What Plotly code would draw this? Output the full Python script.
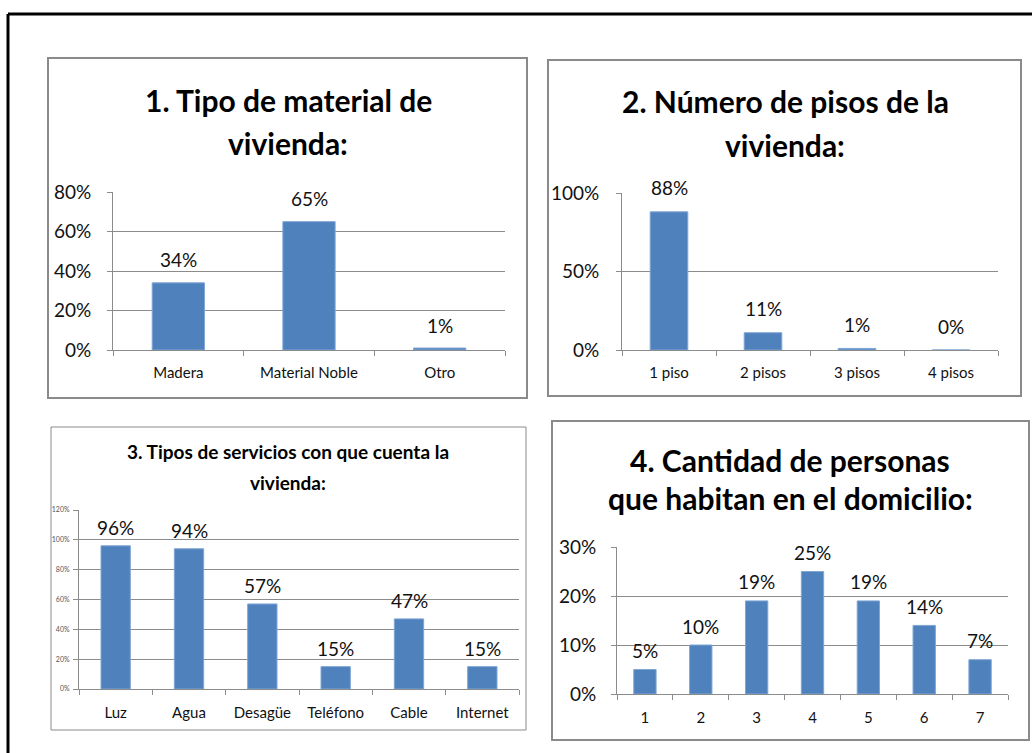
import plotly.graph_objects as go

W, H = 1032, 753

# ---- data -------------------------------------------------------------
mat_cats = ["Madera", "Material Noble", "Otro"]
mat_vals = [34, 65, 1]

pisos_cats = ["1 piso", "2 pisos", "3 pisos", "4 pisos"]
pisos_vals = [88, 11, 1, 0]

serv_cats = ["Luz", "Agua", "Desagüe", "Teléfono", "Cable", "Internet"]
serv_vals = [96, 94, 57, 15, 47, 15]

pers_cats = ["1", "2", "3", "4", "5", "6", "7"]
pers_vals = [5, 10, 19, 25, 19, 14, 7]

FONT = "Lato, Liberation Sans, sans-serif"
BAR = "#4F81BD"
GRID = "#8C8C8C"


def px_x(p):
    return p / W


def px_y(p):
    return 1 - p / H


# layout of each chart box (pixel geometry)
panels = [
    dict(cats=mat_cats, vals=mat_vals, x0=113, x1=505, ybot=350, ytop=192,
         ymax=80, dtick=20, yfont=19, xfont=15, lblfont=19, lblshift=23,
         ystand=12, xstand=9,
         box=(48, 58, 527, 398), boxw=2,
         title=["1. Tipo de material de", "vivienda:"], tfont=30,
         tx=288, ty=[100, 143]),
    dict(cats=pisos_cats, vals=pisos_vals, x0=622, x1=998, ybot=350, ytop=193,
         ymax=100, dtick=50, yfont=19, xfont=15, lblfont=19, lblshift=24,
         ystand=13, xstand=9,
         box=(548, 60, 1021, 396), boxw=2,
         title=["2. Número de pisos de la", "vivienda:"], tfont=30,
         tx=785, ty=[101, 145]),
    dict(cats=serv_cats, vals=serv_vals, x0=79, x1=519, ybot=689, ytop=510,
         ymax=120, dtick=20, yfont=7, xfont=15, lblfont=19, lblshift=18,
         ystand=2, xstand=10,
         box=(51, 427, 526, 730), boxw=1,
         title=["3. Tipos de servicios con que cuenta la", "vivienda:"], tfont=19,
         tx=288, ty=[451, 482]),
    dict(cats=pers_cats, vals=pers_vals, x0=617, x1=1008, ybot=694, ytop=547,
         ymax=30, dtick=10, yfont=19, xfont=15, lblfont=19, lblshift=19,
         ystand=11, xstand=10,
         box=(552, 421, 1029, 740), boxw=2,
         title=["4. Cantidad de personas", "que habitan en el domicilio:"], tfont=30,
         tx=790, ty=[460, 498]),
]

fig = go.Figure()
shapes = []
annotations = []
layout_axes = {}

for i, p in enumerate(panels, start=1):
    xa = "x" if i == 1 else f"x{i}"
    ya = "y" if i == 1 else f"y{i}"
    fig.add_trace(go.Bar(
        x=p["cats"], y=p["vals"], xaxis=xa, yaxis=ya,
        marker=dict(color=BAR, line=dict(color="#7FA6D4", width=1)),
        width=0.4, showlegend=False, hoverinfo="x+y",
    ))
    # value labels above each bar (x given as category index)
    for k, v in enumerate(p["vals"]):
        annotations.append(dict(
            x=k, y=v, xref=xa, yref=ya, text=f"{v}%", showarrow=False,
            yanchor="middle", yshift=p["lblshift"],
            font=dict(family=FONT, size=p["lblfont"], color="#111"),
        ))
    # title lines
    for line, ty in zip(p["title"], p["ty"]):
        annotations.append(dict(
            x=px_x(p["tx"]), y=px_y(ty), xref="paper", yref="paper",
            text=f"<b>{line}</b>", showarrow=False,
            xanchor="center", yanchor="middle",
            font=dict(family=FONT, size=p["tfont"], color="#000"),
        ))
    # chart box
    bx0, by0, bx1, by1 = p["box"]
    shapes.append(dict(
        type="rect", xref="paper", yref="paper",
        x0=px_x(bx0), x1=px_x(bx1), y0=px_y(by1), y1=px_y(by0),
        line=dict(color="#8A8A8A", width=p["boxw"]), fillcolor="rgba(0,0,0,0)",
        layer="below",
    ))
    kx = "xaxis" if i == 1 else f"xaxis{i}"
    ky = "yaxis" if i == 1 else f"yaxis{i}"
    layout_axes[kx] = dict(
        domain=[px_x(p["x0"]), px_x(p["x1"])], anchor=ya, automargin=False,
        type="category", range=[-0.5, len(p["cats"]) - 0.5],
        showline=True, linecolor=GRID, linewidth=1,
        ticks="outside", tickson="boundaries", ticklen=5, tickcolor=GRID,
        showgrid=False, zeroline=False, fixedrange=True,
        tickfont=dict(family=FONT, size=p["xfont"], color="#111"),
        ticklabelstandoff=p["xstand"],
    )
    layout_axes[ky] = dict(
        domain=[px_y(p["ybot"]), px_y(p["ytop"])], anchor=xa, automargin=False,
        range=[0, p["ymax"]], dtick=p["dtick"], tick0=0, ticksuffix="%",
        showline=True, linecolor=GRID, linewidth=1,
        ticks="outside", ticklen=5, tickcolor=GRID,
        showgrid=True, gridcolor=GRID, gridwidth=1, zeroline=False,
        fixedrange=True,
        tickfont=dict(family=FONT, size=p["yfont"],
                      color="#555" if p["yfont"] < 10 else "#111"),
        ticklabelstandoff=p["ystand"],
    )

# outer frame (top and left edges)
shapes.append(dict(type="line", xref="paper", yref="paper",
                   x0=px_x(8), x1=1, y0=px_y(14), y1=px_y(14),
                   line=dict(color="#000", width=3)))
shapes.append(dict(type="line", xref="paper", yref="paper",
                   x0=px_x(8), x1=px_x(8), y0=px_y(14), y1=0,
                   line=dict(color="#000", width=3)))

fig.update_layout(
    template="none",
    width=W, height=H, margin=dict(l=0, r=0, t=0, b=0, pad=0),
    paper_bgcolor="white", plot_bgcolor="white",
    shapes=shapes, annotations=annotations, bargap=0.6,
    font=dict(family=FONT, color="#111"),
    **layout_axes,
)

fig.write_html("out.html")
